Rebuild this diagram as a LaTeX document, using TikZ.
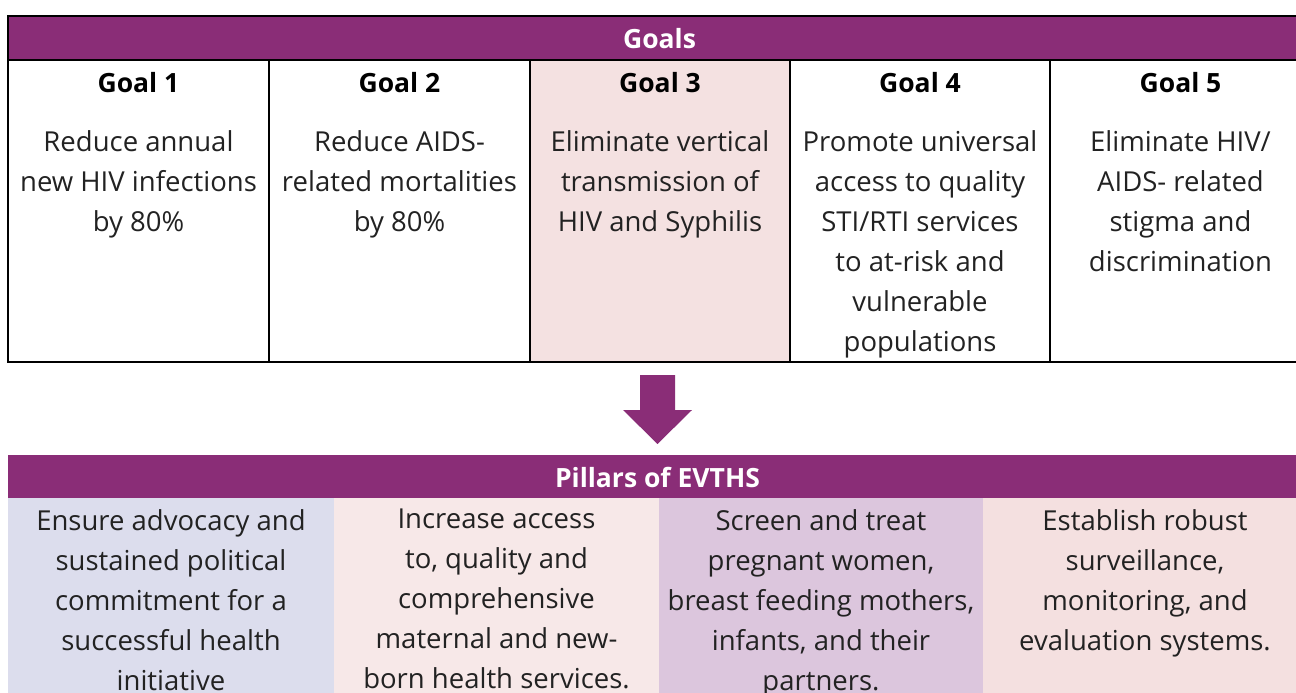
\documentclass[tikz,border=0pt]{standalone}
\usepackage{fontspec}
\setmainfont{Open Sans}
\definecolor{plum}{HTML}{8A2D77}
\definecolor{txt}{HTML}{222222}
\definecolor{gpink}{HTML}{F4E1E1}
\definecolor{plav}{HTML}{DCDDED}
\definecolor{ppink}{HTML}{F7E8E8}
\definecolor{pmauve}{HTML}{DCC6DD}
\definecolor{ppink2}{HTML}{F4E0E0}
\tikzset{
  hdr/.style={text=white, font=\fontsize{26.5}{30}\selectfont\bfseries, inner sep=0},
  glabel/.style={text=black, font=\fontsize{26.5}{30}\selectfont\bfseries, inner sep=0},
  body/.style={text=txt, font=\fontsize{27.5}{40}\selectfont, align=center, inner sep=0},
  cell/.style={draw=black, line width=1.2pt},
}
\begin{document}
\begin{tikzpicture}[x=1pt,y=-1pt]
\useasboundingbox (0,0) rectangle (1296,693);
\clip (0,0) rectangle (1296,693);
% Goals table
\fill[gpink] (530,60) rectangle (790,362);
\fill[plum] (8,16) rectangle (1311,60);
\draw[cell] (8,16) rectangle (1311,362);
\draw[cell] (8,60) -- (1311,60);
\foreach \x in {269,530,790,1050} \draw[cell] (\x,60) -- (\x,362);
\node[hdr] (goals) at (659.5,39) {Goals};
\node[glabel] (g1) at (138.5,83) {Goal 1};
\node[glabel] (g2) at (399.5,83) {Goal 2};
\node[glabel] (g3) at (660,83) {Goal 3};
\node[glabel] (g4) at (920,83) {Goal 4};
\node[glabel] (g5) at (1180.5,83) {Goal 5};
\node[body, anchor=north] (t1) at (138.5,130) {Reduce annual\\new HIV infections\\by 80\%};
\node[body, anchor=north] (t2) at (399.5,130) {Reduce AIDS-\\related mortalities\\by 80\%};
\node[body, anchor=north] (t3) at (660,130) {Eliminate vertical\\transmission of\\HIV and Syphilis};
\node[body, anchor=north] (t4) at (920,130) {Promote universal\\access to quality\\STI/RTI services\\to at-risk and\\vulnerable\\populations};
\node[body, anchor=north] (t5) at (1180.5,130) {Eliminate HIV/\\AIDS- related\\stigma and\\discrimination};
% arrow
\fill[plum] (640,375) -- (675,375) -- (675,410) -- (692,410) -- (657.5,444) -- (623,410) -- (640,410) -- cycle;
% Pillars
\fill[plum] (8,455) rectangle (1311,498);
\fill[plav] (8,498) rectangle (334,693);
\fill[ppink] (334,498) rectangle (659,693);
\fill[pmauve] (659,498) rectangle (983,693);
\fill[ppink2] (983,498) rectangle (1311,693);
\node[hdr] (pillars) at (657.5,477) {Pillars of EVTHS};
\node[body, anchor=north] (p1) at (171,509) {Ensure advocacy and\\sustained political\\commitment for a\\successful health\\initiative};
\node[body, anchor=north] (p2) at (496.5,509) {Increase access\\to, quality and\\comprehensive\\maternal and new-\\born health services.};
\node[body, anchor=north] (p3) at (821,509) {Screen and treat\\pregnant women,\\breast feeding mothers,\\infants, and their\\partners.};
\node[body, anchor=north] (p4) at (1145,509) {Establish robust\\surveillance,\\monitoring, and\\evaluation systems.};
\end{tikzpicture}
\end{document}
